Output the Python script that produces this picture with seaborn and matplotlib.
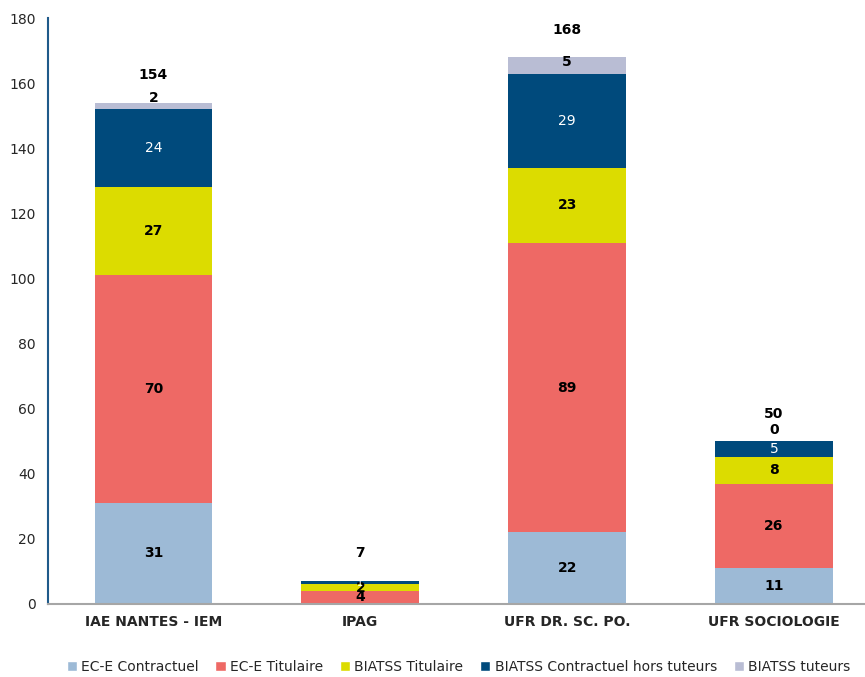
import numpy as np
import pandas as pd
import matplotlib
matplotlib.use("Agg")
import matplotlib.pyplot as plt
import seaborn as sns
from matplotlib.patches import Patch

# Données
categories = ["IAE NANTES - IEM", "IPAG", "UFR DR. SC. PO.", "UFR SOCIOLOGIE"]
series = ["EC-E Contractuel", "EC-E Titulaire", "BIATSS Titulaire",
          "BIATSS Contractuel hors tuteurs", "BIATSS tuteurs"]
ece_contractuel = [31, np.nan, 22, 11]
ece_titulaire = [70, 4, 89, 26]
biatss_titulaire = [27, 2, 23, 8]
biatss_contractuel = [24, 1, 29, 5]
biatss_tuteurs = [2, np.nan, 5, 0]

couleurs = ["#9DBAD6", "#EE6965", "#DCDC00", "#004A7C", "#B9BDD4"]
couleurs_texte = ["black", "black", "black", "white", "black"]

valeurs = [ece_contractuel, ece_titulaire, biatss_titulaire, biatss_contractuel, biatss_tuteurs]
df = pd.DataFrame({s: v for s, v in zip(series, valeurs)}, index=categories).fillna(0)
cumul = df.cumsum(axis=1)
totaux = df.sum(axis=1)

sns.set_style("white")
plt.rcParams["font.family"] = ["DejaVu Sans"]

fig = plt.figure(figsize=(8.65, 6.77), dpi=100)
ax = fig.add_axes([0.0555, 0.108, 0.9445, 0.865])

# Barres empilées : on dessine les cumuls du plus haut au plus bas
for i in range(len(series) - 1, -1, -1):
    sns.barplot(x=categories, y=cumul.iloc[:, i].values, color=couleurs[i],
                width=0.57, saturation=1, ax=ax, linewidth=0)

# Étiquettes des segments
for j, cat in enumerate(categories):
    bas = 0
    for i, s in enumerate(series):
        v = valeurs[i][j]
        if np.isnan(v):
            continue
        if i == 4:
            y = bas + max(v / 2, 3.5)  # petit segment : étiquette au-dessus
        else:
            y = bas + v / 2
        poids = "normal" if i == 3 else "bold"
        taille = 7 if 0 < v < 2 else 10
        ax.text(j, y, f"{int(v)}", ha="center", va="center", fontsize=taille,
                color=couleurs_texte[i], fontweight=poids)
        bas += v
    ax.text(j, totaux[cat] + 8.5, f"{int(totaux[cat])}", ha="center", va="center",
            fontsize=10, fontweight="bold", color="black")

ax.set_ylim(0, 180)
ax.set_xlim(-0.51, 3.44)
ax.set_yticks(range(0, 181, 20))
ax.tick_params(axis="y", length=0, pad=9, labelsize=10)
ax.tick_params(axis="x", length=0, pad=8, labelsize=10)
for lab in ax.get_xticklabels():
    lab.set_fontweight("bold")
ax.set_xlabel("")
ax.set_ylabel("")

for side in ["top", "right"]:
    ax.spines[side].set_visible(False)
ax.spines["left"].set_color("#1F5A8A")
ax.spines["left"].set_linewidth(1.5)
ax.spines["bottom"].set_color("#A6A6A6")
ax.spines["bottom"].set_linewidth(1.5)

poignees = [Patch(facecolor=c, label=s) for c, s in zip(couleurs, series)]
fig.legend(handles=poignees, loc="center", bbox_to_anchor=(0.53, 0.015), ncol=5,
           frameon=False, fontsize=10, handlelength=0.75, handleheight=0.75,
           handletextpad=0.3, columnspacing=1.2)

plt.savefig("out.png", dpi=100)
